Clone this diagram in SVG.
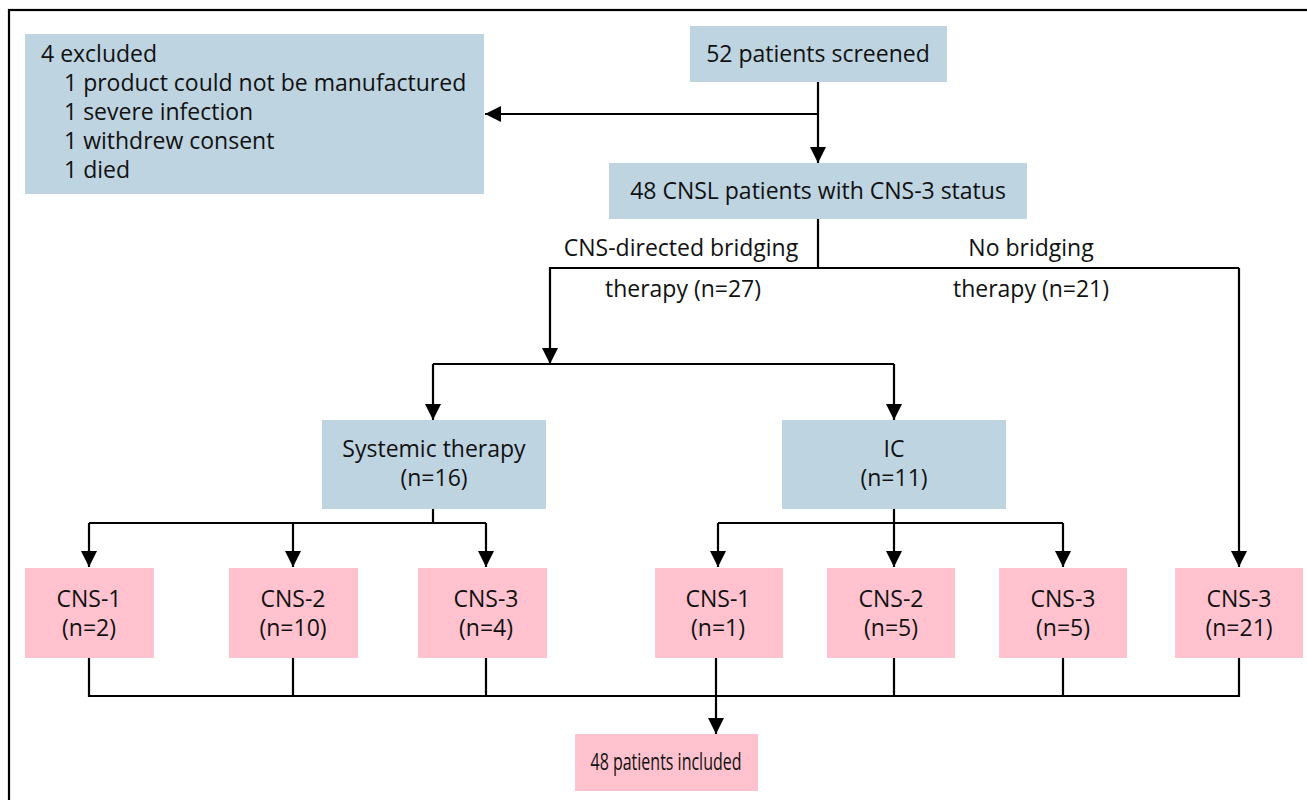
<svg xmlns="http://www.w3.org/2000/svg" width="1307" height="800" viewBox="0 0 1307 800">
<style>
.b{fill:#bed4e1}
.p{fill:#ffc2ce}
text{font-family:"Open Sans","Noto Sans",sans-serif;font-size:23px;fill:#111}
.c{text-anchor:middle}
.l{fill:none;stroke:#000;stroke-width:2.2}
</style>
<defs>
<marker id="a" viewBox="0 0 10 10" refX="10" refY="5" markerWidth="16" markerHeight="16" markerUnits="userSpaceOnUse" orient="auto"><path d="M0,0L10,5L0,10z" fill="#000"/></marker>
</defs>
<rect x="0" y="0" width="1307" height="800" fill="#fff"/>
<rect x="9" y="10" width="1320" height="820" fill="none" stroke="#000" stroke-width="2.2"/>
<g id="connectors" class="l">
<path d="M818,82V163" marker-end="url(#a)"/>
<path d="M818,114H485" marker-end="url(#a)"/>
<path d="M818,219V268"/>
<path d="M1239,268H550V364" marker-end="url(#a)"/>
<path d="M1239,268V567" marker-end="url(#a)"/>
<path d="M433,364H894"/>
<path d="M433,364V420" marker-end="url(#a)"/>
<path d="M894,364V420" marker-end="url(#a)"/>
<path d="M433,509V523"/>
<path d="M89,523H486"/>
<path d="M89,523V567" marker-end="url(#a)"/>
<path d="M293,523V567" marker-end="url(#a)"/>
<path d="M486,523V567" marker-end="url(#a)"/>
<path d="M894,509V523"/>
<path d="M718,523H1063"/>
<path d="M718,523V567" marker-end="url(#a)"/>
<path d="M894,523V567" marker-end="url(#a)"/>
<path d="M1063,523V567" marker-end="url(#a)"/>
<path d="M89,658V696H1239V658"/>
<path d="M293,658V696M486,658V696M894,658V696M1063,658V696"/>
<path d="M716,658V734" marker-end="url(#a)"/>
</g>
<g id="excluded"><rect class="b" x="25" y="34" width="459" height="160"/>
<text x="41" y="62">4 excluded</text>
<text x="64" y="91">1 product could not be manufactured</text>
<text x="64" y="120">1 severe infection</text>
<text x="64" y="149">1 withdrew consent</text>
<text x="64" y="178">1 died</text></g>
<g id="screened"><rect class="b" x="690" y="26" width="257" height="56"/><text class="c" x="818" y="62">52 patients screened</text></g>
<g id="cnsl"><rect class="b" x="609" y="163" width="418" height="56"/><text class="c" x="818" y="199">48 CNSL patients with CNS-3 status</text></g>
<g id="label-bridging"><text class="c" x="681" y="256">CNS-directed bridging</text><text class="c" x="683" y="297">therapy (n=27)</text></g>
<g id="label-nobridging"><text class="c" x="1031" y="256">No bridging</text><text class="c" x="1031" y="297">therapy (n=21)</text></g>
<g id="systemic"><rect class="b" x="322" y="420" width="224" height="89"/><text class="c" x="434" y="457">Systemic therapy</text><text class="c" x="434" y="486">(n=16)</text></g>
<g id="ic"><rect class="b" x="782" y="420" width="224" height="89"/><text class="c" x="894" y="457">IC</text><text class="c" x="894" y="486">(n=11)</text></g>
<g id="s-cns1"><rect class="p" x="25" y="568" width="129" height="90"/><text class="c" x="89" y="607">CNS-1</text><text class="c" x="89" y="636">(n=2)</text></g>
<g id="s-cns2"><rect class="p" x="229" y="568" width="129" height="90"/><text class="c" x="293" y="607">CNS-2</text><text class="c" x="293" y="636">(n=10)</text></g>
<g id="s-cns3"><rect class="p" x="418" y="568" width="129" height="90"/><text class="c" x="486" y="607">CNS-3</text><text class="c" x="486" y="636">(n=4)</text></g>
<g id="i-cns1"><rect class="p" x="655" y="568" width="128" height="90"/><text class="c" x="718" y="607">CNS-1</text><text class="c" x="718" y="636">(n=1)</text></g>
<g id="i-cns2"><rect class="p" x="827" y="568" width="128" height="90"/><text class="c" x="891" y="607">CNS-2</text><text class="c" x="891" y="636">(n=5)</text></g>
<g id="i-cns3"><rect class="p" x="999" y="568" width="128" height="90"/><text class="c" x="1063" y="607">CNS-3</text><text class="c" x="1063" y="636">(n=5)</text></g>
<g id="n-cns3"><rect class="p" x="1175" y="568" width="128" height="90"/><text class="c" x="1239" y="607">CNS-3</text><text class="c" x="1239" y="636">(n=21)</text></g>
<g id="included"><rect class="p" x="575" y="734" width="183" height="57"/><text class="c" x="666" y="770" textLength="151" lengthAdjust="spacingAndGlyphs">48 patients included</text></g>
</svg>
